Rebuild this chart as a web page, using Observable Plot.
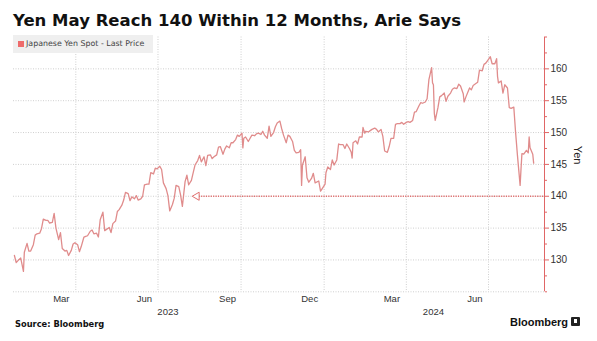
<!DOCTYPE html>
<html>
<head>
<meta charset="utf-8">
<script src="https://cdn.jsdelivr.net/npm/d3@7"></script>
<script src="https://cdn.jsdelivr.net/npm/@observablehq/plot@0.6"></script>
<style>
  body { margin: 0; background: #fff; }
  #wrap { position: relative; width: 597px; height: 341px; overflow: hidden; background: #fff; }
  #chart { position: absolute; left: 0; top: 0; }
  .ov { position: absolute; white-space: nowrap; z-index: 2; }
  #title { left: 13px; top: 13px; font: bold 16.5px/16px "DejaVu Sans", sans-serif; color: #111; }
  #legend { left: 13px; top: 35px; width: 140px; height: 18px; background: #efefef; }
  #legend .sw { position: absolute; left: 5px; top: 6px; width: 6px; height: 6px; background: #ee6b6b; }
  #legend .tx { position: absolute; left: 13px; top: 3px; font: 7.9px/12px "DejaVu Sans", sans-serif; color: #444; }
  #source { left: 15px; top: 319px; font: bold 8.3px/10px "DejaVu Sans", sans-serif; color: #111; }
  #brand { left: 510px; top: 315px; font: bold 11px/14px "Liberation Sans", Arial, sans-serif; color: #111; }
  #logo { left: 571px; top: 317px; width: 9px; height: 9px; background: #222; border-radius: 1px; }
  #logo::after { content: ""; position: absolute; left: 3px; top: 2px; width: 3px; height: 4px; background: #fff; }
</style>
</head>
<body>
<div id="wrap">
  <div id="chart"></div>
  <div class="ov" id="title"></div>
  <div class="ov" id="legend"><div class="sw"></div><div class="tx"></div></div>
  <div class="ov" id="source"></div>
  <div class="ov" id="brand"></div>
  <div class="ov" id="logo"></div>
</div>
<script>
// ---------- texts ----------
const titleText = "Yen May Reach 140 Within 12 Months, Arie Says";
const legendText = "Japanese Yen Spot - Last Price";
const sourceText = "Source: Bloomberg";
const brandText = "Bloomberg";
const yAxisLabel = "Yen";

// ---------- scales / ticks ----------
const xStart = "2023-01-22";
const xEnd = "2024-09-01";
const yDomain = [125, 165];
const majorLevels = [130, 135, 140, 145, 150, 155, 160];
const minorLevels = [125, 127.5, 132.5, 137.5, 142.5, 147.5, 152.5, 157.5, 162.5, 165];
const gridLevels = [125, 130, 135, 140, 145, 150, 155, 160];
const gridDates = ["2023-04-01", "2023-07-01", "2023-10-01", "2024-01-01", "2024-04-01", "2024-07-01"];
const monthLabelDates = ["2023-03-16", "2023-06-16", "2023-09-16", "2023-12-16", "2024-03-16", "2024-06-16"];
const monthLabels = ["Mar", "Jun", "Sep", "Dec", "Mar", "Jun"];
const yearLabelDates = ["2023-07-12", "2024-05-01"];
const yearLabels = ["2023", "2024"];

// ---------- annotation: 140 target arrow ----------
const arrowLevel = 140;
const arrowFrom = "2023-08-13";

// ---------- series: USD/JPY spot ----------
const dates = [
"2023-01-23","2023-01-25","2023-01-27","2023-01-30","2023-02-01","2023-02-02","2023-02-03","2023-02-06","2023-02-08","2023-02-10",
"2023-02-13","2023-02-15","2023-02-17","2023-02-20","2023-02-22","2023-02-24","2023-02-27","2023-03-01","2023-03-03","2023-03-06",
"2023-03-08","2023-03-10","2023-03-13","2023-03-15","2023-03-17","2023-03-20","2023-03-22","2023-03-24","2023-03-27","2023-03-29",
"2023-03-31","2023-04-03","2023-04-05","2023-04-07","2023-04-10","2023-04-12","2023-04-14","2023-04-17","2023-04-19","2023-04-21",
"2023-04-24","2023-04-26","2023-04-28","2023-05-01","2023-05-03","2023-05-05","2023-05-08","2023-05-10","2023-05-12","2023-05-15",
"2023-05-17","2023-05-19","2023-05-22","2023-05-24","2023-05-26","2023-05-29","2023-05-31","2023-06-02","2023-06-05","2023-06-07",
"2023-06-09","2023-06-12","2023-06-14","2023-06-16","2023-06-19","2023-06-21","2023-06-23","2023-06-26","2023-06-28","2023-06-30",
"2023-07-03","2023-07-05","2023-07-07","2023-07-10","2023-07-12","2023-07-14","2023-07-17","2023-07-19","2023-07-21","2023-07-24",
"2023-07-26","2023-07-28","2023-07-31","2023-08-02","2023-08-04","2023-08-07","2023-08-09","2023-08-11","2023-08-14","2023-08-16",
"2023-08-18","2023-08-21","2023-08-23","2023-08-25","2023-08-28","2023-08-30","2023-09-01","2023-09-04","2023-09-06","2023-09-08",
"2023-09-11","2023-09-13","2023-09-15","2023-09-18","2023-09-20","2023-09-22","2023-09-25","2023-09-27","2023-09-29","2023-10-02",
"2023-10-03","2023-10-04","2023-10-06","2023-10-09","2023-10-11","2023-10-13","2023-10-16","2023-10-18","2023-10-20","2023-10-23",
"2023-10-25","2023-10-27","2023-10-30","2023-11-01","2023-11-03","2023-11-06","2023-11-08","2023-11-10","2023-11-13","2023-11-15",
"2023-11-17","2023-11-20","2023-11-22","2023-11-24","2023-11-27","2023-11-29","2023-12-01","2023-12-04","2023-12-06","2023-12-07",
"2023-12-08","2023-12-11","2023-12-13","2023-12-15","2023-12-18","2023-12-20","2023-12-22","2023-12-26","2023-12-28","2023-12-29",
"2024-01-02","2024-01-03","2024-01-05","2024-01-08","2024-01-10","2024-01-12","2024-01-15","2024-01-17","2024-01-19","2024-01-22",
"2024-01-24","2024-01-26","2024-01-29","2024-01-31","2024-02-01","2024-02-02","2024-02-05","2024-02-07","2024-02-09","2024-02-12",
"2024-02-13","2024-02-15","2024-02-16","2024-02-19","2024-02-21","2024-02-23","2024-02-26","2024-02-28","2024-03-01","2024-03-04",
"2024-03-06","2024-03-08","2024-03-11","2024-03-13","2024-03-15","2024-03-18","2024-03-20","2024-03-22","2024-03-25","2024-03-27",
"2024-03-29","2024-04-01","2024-04-03","2024-04-05","2024-04-08","2024-04-10","2024-04-12","2024-04-15","2024-04-17","2024-04-19",
"2024-04-22","2024-04-24","2024-04-26","2024-04-29","2024-04-30","2024-05-01","2024-05-02","2024-05-03","2024-05-06","2024-05-08",
"2024-05-10","2024-05-13","2024-05-15","2024-05-17","2024-05-20","2024-05-22","2024-05-24","2024-05-27","2024-05-29","2024-05-31",
"2024-06-03","2024-06-04","2024-06-06","2024-06-10","2024-06-12","2024-06-14","2024-06-17","2024-06-19","2024-06-21","2024-06-24",
"2024-06-26","2024-06-28","2024-07-01","2024-07-03","2024-07-05","2024-07-08","2024-07-10","2024-07-11","2024-07-12","2024-07-15",
"2024-07-17","2024-07-19","2024-07-22","2024-07-24","2024-07-26","2024-07-29","2024-07-31","2024-08-02","2024-08-05","2024-08-06",
"2024-08-07","2024-08-09","2024-08-12","2024-08-14","2024-08-15","2024-08-16","2024-08-19","2024-08-20"
];
const values = [
130.7,129.6,129.9,130.3,128.9,128.2,131.2,132.6,131.4,131.4,
132.4,133.9,134.1,134.2,134.9,136.4,136.2,136.2,135.8,135.9,
137.3,135.0,133.2,134.3,131.8,131.4,131.5,130.7,131.5,132.5,
132.7,132.4,131.3,132.1,133.6,133.7,133.8,134.5,134.7,134.1,
134.2,133.6,136.3,137.5,134.6,134.8,135.1,134.3,135.7,136.1,
137.6,137.9,138.6,139.4,140.6,140.4,139.3,139.9,139.6,140.1,
139.4,139.6,140.0,141.8,141.9,141.9,143.7,143.5,144.4,144.3,
144.7,144.2,142.1,141.2,140.1,137.7,138.7,139.7,141.7,141.5,
140.2,138.4,142.3,143.3,141.8,142.5,143.7,144.9,145.6,146.4,
145.4,146.2,144.8,146.4,146.5,145.9,146.2,146.5,147.7,147.8,
146.6,147.4,147.9,147.6,148.4,148.4,148.9,149.6,149.4,149.9,
147.6,149.1,149.3,148.6,149.1,149.6,149.5,149.8,149.9,149.7,
150.2,149.6,149.1,151.0,149.4,150.0,150.9,151.5,151.8,150.6,
149.6,148.4,149.6,149.4,148.6,147.2,146.8,146.9,147.3,141.7,
144.9,146.2,142.9,142.2,142.8,143.6,142.1,142.4,140.8,141.0,
141.9,143.7,144.6,144.2,145.7,144.9,145.7,148.2,148.1,148.1,
147.5,148.2,147.5,146.9,146.0,148.4,148.7,148.2,149.3,149.3,
150.8,149.9,150.2,150.1,150.3,150.5,150.7,150.5,150.1,150.5,
149.4,147.1,146.9,147.8,149.1,149.1,151.3,151.4,151.4,151.6,
151.3,151.6,151.7,151.6,151.9,153.2,153.3,154.2,154.7,154.6,
154.8,155.3,158.3,160.2,157.8,157.5,153.0,151.9,153.9,155.6,
155.8,156.2,154.9,155.7,156.2,156.8,157.0,156.9,157.6,157.3,
156.1,154.8,155.6,157.0,156.7,157.4,157.7,157.9,159.8,159.7,
160.7,160.9,161.5,161.9,160.8,160.8,161.6,158.8,157.8,158.1,
156.2,157.5,157.0,153.9,153.8,154.0,150.0,146.5,141.7,144.3,
146.7,146.6,147.2,146.8,149.3,147.6,146.6,145.2
];

// ---------- colours ----------
const lineRed = "#e08c8c";
const axisRed = "#e06666";
const gridGray = "#cfcfcf";

// ---------- build ----------
const parse = d3.utcParse("%Y-%m-%d");
const data = dates.map((d, i) => ({date: parse(d), yen: values[i]}));
const monthMap = new Map(monthLabelDates.map((d, i) => [+parse(d), monthLabels[i]]));
const yearMap = new Map(yearLabelDates.map((d, i) => [+parse(d), yearLabels[i]]));
const arrowData = [{x1: parse(arrowFrom), x2: parse(xEnd), y: arrowLevel}];

document.getElementById("title").textContent = titleText;
document.querySelector("#legend .tx").textContent = legendText;
document.getElementById("source").textContent = sourceText;
document.getElementById("brand").textContent = brandText;

const chart = Plot.plot({
  width: 597,
  height: 341,
  marginLeft: 13,
  marginRight: 53,
  marginTop: 36.5,
  marginBottom: 49.7,
  style: {fontFamily: "'Liberation Sans', Arial, sans-serif", fontSize: "10px", color: "#333", background: "transparent"},
  x: {type: "utc", domain: [parse(xStart), parse(xEnd)]},
  y: {domain: yDomain},
  marks: [
    Plot.gridX(gridDates.map(parse), {stroke: gridGray, strokeOpacity: 1, strokeDasharray: "1,1.5"}),
    Plot.gridY(gridLevels, {stroke: gridGray, strokeOpacity: 1, strokeDasharray: "1,1.5"}),
    Plot.axisX({ticks: monthLabelDates.map(parse), tickSize: 0, tickPadding: 3, tickFormat: d => monthMap.get(+d), label: null, fill: "#333", fontSize: 9.5}),
    Plot.axisX({ticks: yearLabelDates.map(parse), tickSize: 0, tickPadding: 16, tickFormat: d => yearMap.get(+d), label: null, fill: "#333", fontSize: 9.5}),
    Plot.ruleX([parse(xEnd)], {stroke: axisRed, strokeWidth: 1}),
    Plot.axisY({anchor: "right", ticks: minorLevels, tickSize: 2, tickFormat: () => "", stroke: axisRed, label: null}),
    Plot.axisY({anchor: "right", ticks: majorLevels, tickSize: 4, tickPadding: 2, stroke: axisRed, fill: "#333", label: null, fontSize: 10}),
    Plot.text([yAxisLabel], {frameAnchor: "right", text: d => d, rotate: 90, dx: 33, fontSize: 11, fill: "#222"}),
    Plot.ruleY(arrowData, {y: "y", x1: "x1", x2: "x2", stroke: "#e07070", strokeWidth: 1.6, strokeDasharray: "1.2,1.2"}),
    Plot.dot(arrowData, {x: "x1", y: "y", symbol: "triangle", rotate: -90, r: 3, stroke: "#e07070", fill: "white", strokeWidth: 1}),
    Plot.line(data, {x: "date", y: "yen", stroke: lineRed, strokeWidth: 1.3})
  ]
});
document.getElementById("chart").appendChild(chart);
</script>
</body>
</html>
